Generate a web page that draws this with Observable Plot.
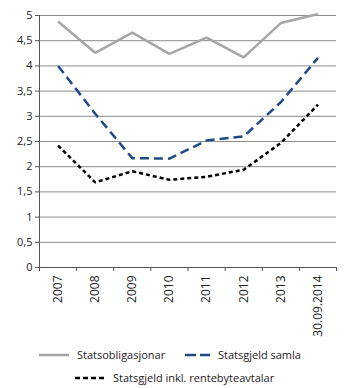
<!DOCTYPE html>
<html><head><meta charset="utf-8">
<script src="https://cdn.jsdelivr.net/npm/d3@7"></script>
<script src="https://cdn.jsdelivr.net/npm/@observablehq/plot@0.6"></script>
<style>
body{margin:0;background:#fff;font-family:"Open Sans",sans-serif;}
#legend{position:relative;width:350px;height:48px;font-size:11px;color:#222;}
.item{position:absolute;display:flex;align-items:center;white-space:nowrap;}
.item svg{margin-right:8px;}
</style>
</head><body>
<div id="chart"></div>
<div id="legend"></div>
<script>
const categories = ["2007","2008","2009","2010","2011","2012","2013","30.09.2014"];
const statsobligasjonar = [4.88,4.26,4.66,4.24,4.56,4.17,4.85,5.03];
const statsgjeldSamla = [4.0,3.05,2.17,2.16,2.52,2.60,3.28,4.16];
const statsgjeldInkl = [2.42,1.69,1.91,1.74,1.80,1.94,2.47,3.23];
const yTicks = [0,0.5,1,1.5,2,2.5,3,3.5,4,4.5,5];
const seriesNames = ["Statsobligasjonar","Statsgjeld samla","Statsgjeld inkl. rentebyteavtalar"];

const styles = [
  {stroke:"#a6a6a6", dash:null},
  {stroke:"#1f4a8a", dash:"9,5"},
  {stroke:"#000000", dash:"4,3"}
];
const seriesValues = [statsobligasjonar, statsgjeldSamla, statsgjeldInkl];
const idx = categories.map((c,i)=>i);
const bounds = d3.range(categories.length+1).map(i=>i-0.5);

const lineMarks = seriesValues.map((vals,s)=>Plot.line(vals.map((v,i)=>({i,v})),{
  x:"i", y:"v", stroke:styles[s].stroke, strokeWidth:2.5,
  strokeDasharray:styles[s].dash, strokeLinejoin:"miter", strokeLinecap:"butt"
}));

const chart = Plot.plot({
  width:350, height:340,
  marginTop:15, marginBottom:73, marginLeft:39, marginRight:14,
  style:{fontFamily:"Open Sans, sans-serif", fontSize:"11px", color:"#222", background:"#fff"},
  x:{domain:[-0.5, categories.length-0.5], axis:null},
  y:{domain:[0,5], axis:null},
  marks:[
    Plot.ruleY(yTicks.filter(t=>t>0),{stroke:"#8c8c8c", strokeWidth:1}),
    Plot.axisY({ticks:yTicks, tickFormat:d=>String(d).replace(".",","), tickSize:4, tickPadding:3, stroke:"#555", label:null}),
    Plot.ruleX([-0.5],{stroke:"#555"}),
    Plot.ruleY([0],{stroke:"#555"}),
    Plot.axisX({ticks:bounds, tickFormat:()=>"", tickSize:4, stroke:"#555", label:null}),
    Plot.axisX({ticks:idx, tickFormat:i=>categories[i], tickSize:0, tickPadding:8, tickRotate:-90, fontSize:12, label:null}),
    ...lineMarks
  ]
});
document.getElementById("chart").appendChild(chart);

const legend = document.getElementById("legend");
const pos = [{left:39, top:7, w:30},{left:185, top:7, w:25},{left:75, top:30, w:30}];
seriesNames.forEach((name,s)=>{
  const d = document.createElement("div");
  d.className="item";
  d.style.left=pos[s].left+"px"; d.style.top=pos[s].top+"px";
  const w = pos[s].w;
  d.innerHTML = `<svg width="${w}" height="10"><line x1="0" x2="${w}" y1="5" y2="5" stroke="${styles[s].stroke}" stroke-width="2.5" ${styles[s].dash?`stroke-dasharray="${s===1?'11,4':'5,3'}"`:""}/></svg><span>${name}</span>`;
  legend.appendChild(d);
});
</script>
</body></html>
